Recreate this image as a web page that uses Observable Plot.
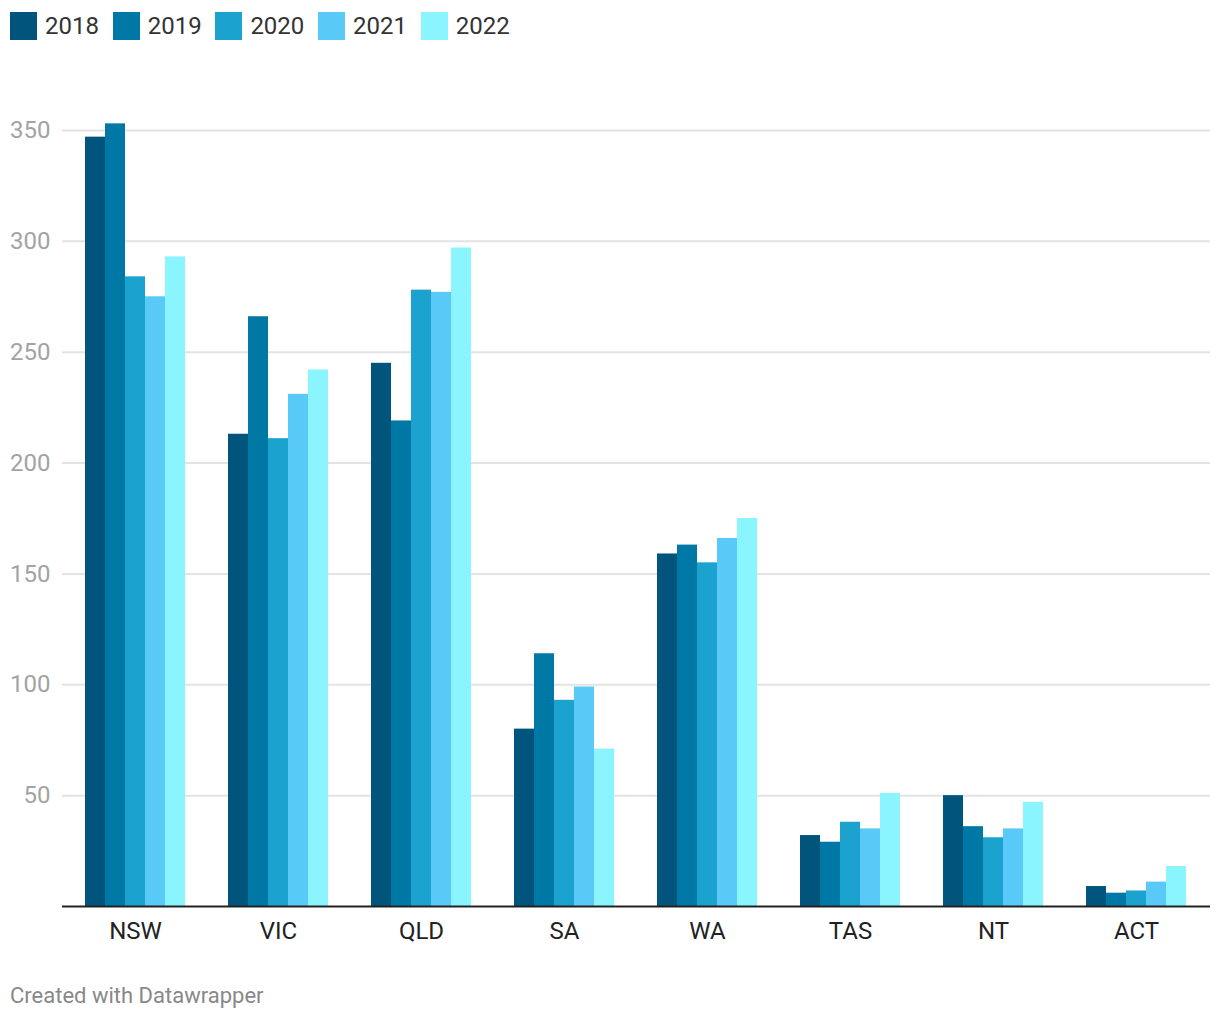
<!DOCTYPE html>
<html><head><meta charset="utf-8">
<script src="https://cdn.jsdelivr.net/npm/d3@7"></script>
<script src="https://cdn.jsdelivr.net/npm/@observablehq/plot@0.6"></script>
<style>
body{margin:0;background:#fff;font-family:Roboto,sans-serif;}
#wrap{position:relative;width:1220px;height:1020px;overflow:hidden;}
#legend{position:absolute;left:10px;top:12px;display:flex;align-items:center;}
.item{display:flex;align-items:center;width:102.7px;font-size:24px;color:#333;}
.sw{width:27px;height:28px;margin-right:8px;flex:none;}
.layer{position:absolute;left:0;top:60px;}
#caption{position:absolute;left:10px;top:983px;font-size:22px;color:#888;}
</style>
</head><body>
<div id="wrap">
  <div id="legend"></div>
  <div id="bg" class="layer"></div>
  <div id="bars" class="layer"></div>
  <div id="top" class="layer"></div>
  <div id="caption">Created with Datawrapper</div>
</div>
<script>
const states = ["NSW","VIC","QLD","SA","WA","TAS","NT","ACT"];
const years = ["2018","2019","2020","2021","2022"];
const v2018 = [347,213,245,80,159,32,50,9];
const v2019 = [353,266,219,114,163,29,36,6];
const v2020 = [284,211,278,93,155,38,31,7];
const v2021 = [275,231,277,99,166,35,35,11];
const v2022 = [293,242,297,71,175,51,47,18];
const colors = ["#01557c","#0078a5","#1ba2cf","#59caf7","#8af5fe"];
const yTicks = [50,100,150,200,250,300,350];

const series = [v2018,v2019,v2020,v2021,v2022];
const data = states.flatMap((s,i)=>years.map((y,j)=>({state:s, year:y, value:series[j][i]})));

const common = {width:1220, height:900, marginTop:70, marginBottom:54, marginLeft:62, marginRight:10};

// legend
const leg = document.getElementById("legend");
years.forEach((y,j)=>{
  const it = document.createElement("div"); it.className="item";
  const sw = document.createElement("div"); sw.className="sw"; sw.style.background=colors[j];
  const t = document.createElement("span"); t.textContent=y;
  it.appendChild(sw); it.appendChild(t); leg.appendChild(it);
});

// background: grid + y axis
document.getElementById("bg").appendChild(Plot.plot({
  ...common,
  style:{background:"transparent", color:"#a3a3a3", fontFamily:"Roboto", fontSize:"24px"},
  y:{domain:[0,350]},
  marks:[
    Plot.gridY(yTicks,{stroke:"#e3e3e3", strokeOpacity:1, strokeWidth:2}),
    Plot.axisY(yTicks,{tickSize:0, tickPadding:12, label:null, fontSize:24})
  ]
}));

// bars
document.getElementById("bars").appendChild(Plot.plot({
  ...common,
  style:{background:"transparent", color:"#222", fontFamily:"Roboto", fontSize:"24px"},
  y:{domain:[0,350], axis:null},
  x:{domain:years, axis:null, padding:0},
  fx:{domain:states, paddingInner:0.3, paddingOuter:0.15, label:null, axis:"bottom", tickSize:0, tickPadding:15},
  color:{domain:years, range:colors},
  marks:[
    Plot.barY(data,{fx:"state", x:"year", y:"value", fill:"year", inset:0})
  ]
}));

// baseline on top
document.getElementById("top").appendChild(Plot.plot({
  ...common,
  style:{background:"transparent"},
  y:{domain:[0,350], axis:null},
  marks:[Plot.ruleY([0],{stroke:"#222", strokeWidth:2})]
}));
</script>
</body></html>
